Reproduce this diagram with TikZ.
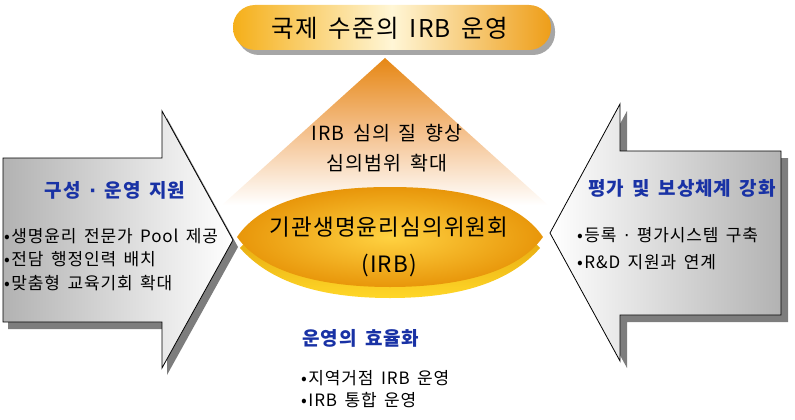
\documentclass[tikz,border=0pt]{standalone}
\usepackage{fontspec}
\setmainfont[LetterSpace=5,WordSpace=1.6]{Noto Sans CJK KR}
\newfontfamily\dotfont{DejaVu Sans}
\newcommand{\middot}{{\dotfont ·}}
\newcommand{\bul}{•\hspace{1.5pt}}
\definecolor{ttlblue}{RGB}{25,50,165}
\definecolor{pillL}{RGB}{245,175,25}
\definecolor{pillM}{RGB}{255,246,214}
\definecolor{pillR}{RGB}{238,158,25}
\definecolor{triTop}{RGB}{230,135,20}
\definecolor{triMid}{RGB}{244,192,140}
\definecolor{goldIn}{RGB}{255,210,65}
\definecolor{goldOut}{RGB}{232,150,10}
\definecolor{rimTop}{RGB}{215,140,0}
\definecolor{rimBot}{RGB}{255,215,40}
\definecolor{shadowgray}{RGB}{125,125,125}
\begin{document}
\begin{tikzpicture}[x=1pt,y=-1pt,
  arrowline/.style={draw=black,line width=0.8pt,line join=miter},
  arrowshadow/.style={fill=shadowgray},
  bluetitle/.style={text=ttlblue,font=\fontsize{19}{21}\selectfont\bfseries,inner sep=0pt},
  bullettext/.style={text=black,font=\fontsize{17}{19}\selectfont,inner sep=0pt,anchor=west},
  centertext/.style={text=black,inner sep=0pt}]
\useasboundingbox (0,0) rectangle (795,420);
% triangle
\shade[top color=triTop, bottom color=white, middle color=triMid]
  (385,58) -- (548,205) -- (222,205) -- cycle;
% top banner
\fill[black!35,rounded corners=22pt] (237,9) rectangle (555,55);
\shade[left color=pillL,right color=pillR,middle color=pillM,rounded corners=22pt]
  (233,5) rectangle (551,50);
\node[centertext,font=\fontsize{24.5}{26}\selectfont] (toptxt) at (390,28) {국제 수준의 IRB 운영};
% left arrow
\fill[arrowshadow,shift={(5,7)}] (3,158) -- (162,158) -- (162,111) -- (233,240) -- (162,368) -- (162,322) -- (3,322) -- cycle;
\shade[left color=black!30,right color=white,arrowline]
  (3,158) -- (162,158) -- (162,111) -- (233,240) -- (162,368) -- (162,322) -- (3,322) -- cycle;
% right arrow
\fill[arrowshadow,shift={(7,7)}] (550,233) -- (620,104) -- (620,151) -- (781,151) -- (781,315) -- (620,315) -- (620,361) -- cycle;
\shade[left color=white,right color=black!30,arrowline]
  (550,233) -- (620,104) -- (620,151) -- (781,151) -- (781,315) -- (620,315) -- (620,361) -- cycle;
% disc
\shade[top color=rimTop,bottom color=rimBot]
  (240,248) .. controls (270,215) and (320,200) .. (390,200) .. controls (460,200) and (510,215) .. (540,248)
  .. controls (510,282) and (460,298) .. (390,298) .. controls (320,298) and (270,282) .. (240,248) -- cycle;
\shade[inner color=goldIn,outer color=goldOut]
  (237,237) .. controls (262,200) and (320,187) .. (390,187) .. controls (460,187) and (518,200) .. (543,237)
  .. controls (518,272) and (460,287) .. (390,287) .. controls (320,287) and (262,272) .. (237,237) -- cycle;
% center texts
\node[centertext,font=\fontsize{19.5}{21}\selectfont] (q1) at (387,133) {IRB 심의 질 향상};
\node[centertext,font=\fontsize{19.5}{21}\selectfont] (q2) at (387,163) {심의범위 확대};
\node[centertext,font=\fontsize{22.5}{24}\selectfont] (irb1) at (389,227) {기관생명윤리심의위원회};
\node[centertext,font=\fontsize{22.5}{24}\selectfont] (irb2) at (389,266) {(IRB)};
% left texts
\node[bluetitle] (lt) at (115,190) {구성 \middot{} 운영 지원};
\node[bullettext] (l1) at (4,236) {\bul 생명윤리 전문가 Pool 제공};
\node[bullettext] (l2) at (4,259) {\bul 전담 행정인력 배치};
\node[bullettext] (l3) at (4,283) {\bul 맞춤형 교육기회 확대};
% right texts
\node[bluetitle] (rt) at (682,188) {평가 및 보상체계 강화};
\node[bullettext] (r1) at (577,235) {\bul 등록 \middot{} 평가시스템 구축};
\node[bullettext] (r2) at (577,262) {\bul R\&D 지원과 연계};
% bottom texts
\node[bluetitle,anchor=west] (bt) at (302,338) {운영의 효율화};
\node[bullettext] (b1) at (301,378) {\bul 지역거점 IRB 운영};
\node[bullettext] (b2) at (301,400) {\bul IRB 통합 운영};
\end{tikzpicture}
\end{document}
